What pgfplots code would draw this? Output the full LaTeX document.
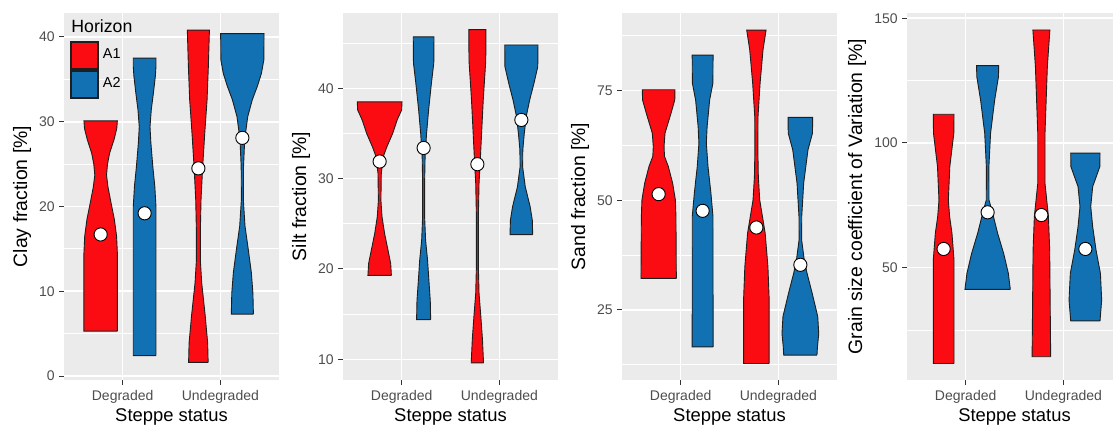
\documentclass[border=0pt]{standalone}
\usepackage{pgfplots}
\pgfplotsset{compat=1.18}
\usepackage{fontspec}
\setmainfont{Liberation Sans}
\definecolor{panelbg}{RGB}{235,235,235}
\definecolor{tickgray}{RGB}{77,77,77}
\definecolor{tickdark}{RGB}{51,51,51}
\definecolor{A1}{RGB}{250,12,18}
\definecolor{A2}{RGB}{17,113,178}
\definecolor{outl}{RGB}{30,30,30}
\pgfplotsset{
  vio/.style={draw=outl, line width=0.45pt},
  med/.style={only marks, mark=*, mark size=3.3pt, mark options={fill=white, draw=black, line width=0.45pt}, forget plot},
  panel/.style={
    scale only axis, width=107.5pt, height=183.5pt, anchor=south west,
    xmin=0.4, xmax=2.6, xtick={1,2}, xticklabels={Degraded,Undegraded},
    axis background/.style={fill=panelbg},
    axis line style={draw=none},
    tick pos=left, tick align=outside, major tick length=2.5pt, minor tick length=0pt,
    tick style={tickdark, line width=0.5pt},
    xmajorgrids, ymajorgrids, yminorgrids,
    major grid style={white, line width=0.8pt},
    minor grid style={white, line width=0.4pt},
    ticklabel style={font=\fontsize{7}{8}\selectfont, text=tickgray, inner sep=0pt},
    xticklabel style={anchor=north, yshift=-2.5pt},
    yticklabel style={anchor=east, xshift=-2pt},
    xlabel={Steppe status},
    x label style={at={(axis description cs:0.5,-0.1144)}, anchor=base, font=\fontsize{9.2}{11}\selectfont},
    y label style={at={(axis description cs:-0.195,0.5)}, anchor=center, font=\fontsize{9.7}{11}\selectfont},
    /pgf/number format/assume math mode=true,
  },
}
\newcommand{\violin}[4][forget plot]{\addplot[vio, fill=#3, #1] table[row sep=\\, x expr=\thisrow{d}+#2, y=y] {#4};}
\begin{document}
\begin{tikzpicture}
\useasboundingbox (0,0) rectangle (556.5pt,213pt);
% ---------------- Panel 1: Clay
\begin{axis}[panel, at={(32pt,23pt)}, ymin=-0.47, ymax=42.83, ytick={0,10,20,30,40}, minor ytick={5,15,25,35},
  ylabel={Clay fraction [\%]},
  legend image code/.code={\path (0pt,-7pt) rectangle (14pt,7pt); \draw[#1] (0.4pt,-6.6pt) rectangle (13.6pt,6.6pt);},
  legend style={at={(axis description cs:0.0279,0.9237)}, anchor=north west, draw=none, fill=none, inner sep=0pt, outer sep=0pt, row sep=0pt, column sep=2pt, font=\fontsize{7.2}{8}\selectfont, nodes={inner sep=0pt, anchor=west}},
  legend cell align=left]
\violin[]{0.775}{A1}{d y\\ 0.171 5.3\\ 0.171 14.5\\ 0.163 16.5\\ 0.140 18.5\\ 0.105 20.5\\ 0.075 22.3\\ 0.060 23.7\\ 0.070 25\\ 0.092 26.3\\ 0.137 27.9\\ 0.165 29.2\\ 0.171 30.1\\ -0.171 30.1\\ -0.165 29.2\\ -0.137 27.9\\ -0.092 26.3\\ -0.070 25\\ -0.060 23.7\\ -0.075 22.3\\ -0.105 20.5\\ -0.140 18.5\\ -0.163 16.5\\ -0.171 14.5\\ -0.171 5.3\\ 0.171 5.3\\}
\addlegendentry{A1}
\violin[]{1.225}{A2}{d y\\ 0.116 2.4\\ 0.116 20\\ 0.104 22.4\\ 0.084 24.7\\ 0.064 27.5\\ 0.055 29.4\\ 0.068 31.4\\ 0.090 33.4\\ 0.110 35.4\\ 0.116 36.5\\ 0.116 37.5\\ -0.116 37.5\\ -0.116 36.5\\ -0.110 35.4\\ -0.090 33.4\\ -0.068 31.4\\ -0.055 29.4\\ -0.064 27.5\\ -0.084 24.7\\ -0.104 22.4\\ -0.116 20\\ -0.116 2.4\\ 0.116 2.4\\}
\addlegendentry{A2}
\violin{1.775}{A1}{d y\\ 0.100 1.6\\ 0.095 3.9\\ 0.070 7.1\\ 0.034 11\\ 0.020 13.7\\ 0.020 16.9\\ 0.027 20.8\\ 0.044 24.7\\ 0.065 28.6\\ 0.089 32.6\\ 0.102 36.5\\ 0.113 40.8\\ -0.113 40.8\\ -0.102 36.5\\ -0.089 32.6\\ -0.065 28.6\\ -0.044 24.7\\ -0.027 20.8\\ -0.020 16.9\\ -0.020 13.7\\ -0.034 11\\ -0.070 7.1\\ -0.095 3.9\\ -0.100 1.6\\ 0.100 1.6\\}
\violin{2.225}{A2}{d y\\ 0.113 7.3\\ 0.108 9.8\\ 0.092 12.2\\ 0.061 14.9\\ 0.027 17.7\\ 0.010 20.8\\ 0.012 24.7\\ 0.024 27.9\\ 0.055 30.6\\ 0.102 32.6\\ 0.154 34.2\\ 0.195 35.7\\ 0.220 37.3\\ 0.222 40.4\\ -0.222 40.4\\ -0.220 37.3\\ -0.195 35.7\\ -0.154 34.2\\ -0.102 32.6\\ -0.055 30.6\\ -0.024 27.9\\ -0.012 24.7\\ -0.010 20.8\\ -0.027 17.7\\ -0.061 14.9\\ -0.092 12.2\\ -0.108 9.8\\ -0.113 7.3\\ 0.113 7.3\\}
\addplot[med] coordinates {(0.775,16.7) (1.225,19.2) (1.775,24.5) (2.225,28.1)};
\node[anchor=base west, font=\fontsize{8.85}{10}\selectfont, inner sep=0pt] at (axis description cs:0.0326,0.9455) {Horizon};
\end{axis}
% ---------------- Panel 2: Silt
\begin{axis}[panel, at={(171.5pt,23pt)}, ymin=7.71, ymax=48.34, ytick={10,20,30,40}, minor ytick={15,25,35,45},
  ylabel={Silt fraction [\%]}]
\violin{0.775}{A1}{d y\\ 0.120 19.3\\ 0.113 20.6\\ 0.085 22.1\\ 0.051 23.9\\ 0.024 25.8\\ 0.013 27.6\\ 0.017 30.6\\ 0.039 32.5\\ 0.073 33.5\\ 0.133 35\\ 0.179 36.5\\ 0.225 37.6\\ 0.229 38.5\\ -0.229 38.5\\ -0.225 37.6\\ -0.179 36.5\\ -0.133 35\\ -0.073 33.5\\ -0.039 32.5\\ -0.017 30.6\\ -0.013 27.6\\ -0.024 25.8\\ -0.051 23.9\\ -0.085 22.1\\ -0.113 20.6\\ -0.120 19.3\\ 0.120 19.3\\}
\violin{1.225}{A2}{d y\\ 0.072 14.4\\ 0.068 16.5\\ 0.056 18.4\\ 0.040 21\\ 0.020 23.2\\ 0.010 25.8\\ 0.010 29.5\\ 0.015 32.4\\ 0.030 35\\ 0.051 37.6\\ 0.080 40.6\\ 0.104 42.8\\ 0.106 45.7\\ -0.106 45.7\\ -0.104 42.8\\ -0.080 40.6\\ -0.051 37.6\\ -0.030 35\\ -0.015 32.4\\ -0.010 29.5\\ -0.010 25.8\\ -0.020 23.2\\ -0.040 21\\ -0.056 18.4\\ -0.068 16.5\\ -0.072 14.4\\ 0.072 14.4\\}
\violin{1.775}{A1}{d y\\ 0.063 9.6\\ 0.052 12.2\\ 0.035 14.8\\ 0.017 17.3\\ 0.010 20.3\\ 0.010 25.8\\ 0.017 29.5\\ 0.030 32.1\\ 0.043 35\\ 0.060 38.7\\ 0.086 43.1\\ 0.087 46.5\\ -0.087 46.5\\ -0.086 43.1\\ -0.060 38.7\\ -0.043 35\\ -0.030 32.1\\ -0.017 29.5\\ -0.010 25.8\\ -0.010 20.3\\ -0.017 17.3\\ -0.035 14.8\\ -0.052 12.2\\ -0.063 9.6\\ 0.063 9.6\\}
\violin{2.225}{A2}{d y\\ 0.116 23.8\\ 0.112 25.4\\ 0.090 26.9\\ 0.040 29.1\\ 0.013 31.3\\ 0.015 33.2\\ 0.030 35\\ 0.050 36.9\\ 0.085 38.7\\ 0.130 40.6\\ 0.168 42.4\\ 0.170 44.8\\ -0.170 44.8\\ -0.168 42.4\\ -0.130 40.6\\ -0.085 38.7\\ -0.050 36.9\\ -0.030 35\\ -0.015 33.2\\ -0.013 31.3\\ -0.040 29.1\\ -0.090 26.9\\ -0.112 25.4\\ -0.116 23.8\\ 0.116 23.8\\}
\addplot[med] coordinates {(0.775,31.9) (1.225,33.4) (1.775,31.6) (2.225,36.5)};
\end{axis}
% ---------------- Panel 3: Sand
\begin{axis}[panel, at={(311pt,23pt)}, ymin=9.04, ymax=92.7, ytick={25,50,75}, minor ytick={12.5,37.5,62.5,87.5},
  ylabel={Sand fraction [\%]}]
\violin{0.775}{A1}{d y\\ 0.181 32.2\\ 0.177 46.3\\ 0.171 50.1\\ 0.143 53.9\\ 0.099 57.7\\ 0.060 60\\ 0.055 62.2\\ 0.065 65.3\\ 0.126 69.8\\ 0.165 72.9\\ 0.167 75.2\\ -0.167 75.2\\ -0.165 72.9\\ -0.126 69.8\\ -0.065 65.3\\ -0.055 62.2\\ -0.060 60\\ -0.099 57.7\\ -0.143 53.9\\ -0.171 50.1\\ -0.177 46.3\\ -0.181 32.2\\ 0.181 32.2\\}
\violin{1.225}{A2}{d y\\ 0.107 16.6\\ 0.106 46.3\\ 0.085 51.6\\ 0.055 57.7\\ 0.038 63\\ 0.046 66.8\\ 0.072 72.9\\ 0.105 76.7\\ 0.107 83.1\\ -0.107 83.1\\ -0.105 76.7\\ -0.072 72.9\\ -0.046 66.8\\ -0.038 63\\ -0.055 57.7\\ -0.085 51.6\\ -0.106 46.3\\ -0.107 16.6\\ 0.107 16.6\\}
\violin{1.775}{A1}{d y\\ 0.131 12.8\\ 0.131 27.3\\ 0.118 34.9\\ 0.090 42.5\\ 0.034 50.1\\ 0.020 55.4\\ 0.015 61.5\\ 0.017 69.2\\ 0.038 76.7\\ 0.068 84.3\\ 0.099 88.8\\ -0.099 88.8\\ -0.068 84.3\\ -0.038 76.7\\ -0.017 69.2\\ -0.015 61.5\\ -0.020 55.4\\ -0.034 50.1\\ -0.090 42.5\\ -0.118 34.9\\ -0.131 27.3\\ -0.131 12.8\\ 0.131 12.8\\}
\violin{2.225}{A2}{d y\\ 0.170 14.7\\ 0.175 16.6\\ 0.188 19.6\\ 0.178 23.5\\ 0.120 28.9\\ 0.068 33.4\\ 0.040 36.4\\ 0.013 41\\ 0.014 46.3\\ 0.034 53.9\\ 0.078 61.5\\ 0.124 65.3\\ 0.126 68.9\\ -0.126 68.9\\ -0.124 65.3\\ -0.078 61.5\\ -0.034 53.9\\ -0.014 46.3\\ -0.013 41\\ -0.040 36.4\\ -0.068 33.4\\ -0.120 28.9\\ -0.178 23.5\\ -0.188 19.6\\ -0.175 16.6\\ -0.170 14.7\\ 0.170 14.7\\}
\addplot[med] coordinates {(0.775,51.4) (1.225,47.6) (1.775,43.8) (2.225,35.3)};
\end{axis}
% ---------------- Panel 4: CV
\begin{axis}[panel, at={(453.5pt,23pt)}, ymin=4.97, ymax=152.1, ytick={50,100,150}, minor ytick={25,75,125},
  ylabel={Grain size coefficient of Variation [\%]},
  y label style={at={(axis description cs:-0.2326,0.5)}}]
\violin{0.775}{A1}{d y\\ 0.106 11.6\\ 0.106 53.1\\ 0.085 63.8\\ 0.061 70.5\\ 0.048 77.1\\ 0.063 90.5\\ 0.104 103.9\\ 0.106 111.5\\ -0.106 111.5\\ -0.104 103.9\\ -0.063 90.5\\ -0.048 77.1\\ -0.061 70.5\\ -0.085 63.8\\ -0.106 53.1\\ -0.106 11.6\\ 0.106 11.6\\}
\violin{1.225}{A2}{d y\\ 0.232 41.3\\ 0.212 47.7\\ 0.164 55.7\\ 0.102 63.8\\ 0.051 71.8\\ 0.014 77.1\\ 0.013 90.5\\ 0.030 103.9\\ 0.072 117.2\\ 0.111 126.6\\ 0.113 131\\ -0.113 131\\ -0.111 126.6\\ -0.072 117.2\\ -0.030 103.9\\ -0.013 90.5\\ -0.014 77.1\\ -0.051 71.8\\ -0.102 63.8\\ -0.164 55.7\\ -0.212 47.7\\ -0.232 41.3\\ 0.232 41.3\\}
\violin{1.775}{A1}{d y\\ 0.095 14.3\\ 0.085 57.1\\ 0.072 70.5\\ 0.037 83.8\\ 0.037 103.9\\ 0.061 130.6\\ 0.087 145.3\\ -0.087 145.3\\ -0.061 130.6\\ -0.037 103.9\\ -0.037 83.8\\ -0.072 70.5\\ -0.085 57.1\\ -0.095 14.3\\ 0.095 14.3\\}
\violin{2.225}{A2}{d y\\ 0.150 28.7\\ 0.167 37\\ 0.154 47.7\\ 0.109 57.1\\ 0.075 66.4\\ 0.055 74.5\\ 0.075 82.5\\ 0.148 90.5\\ 0.150 95.9\\ -0.150 95.9\\ -0.148 90.5\\ -0.075 82.5\\ -0.055 74.5\\ -0.075 66.4\\ -0.109 57.1\\ -0.154 47.7\\ -0.167 37\\ -0.150 28.7\\ 0.150 28.7\\}
\addplot[med] coordinates {(0.775,57.5) (1.225,72.2) (1.775,71.1) (2.225,57.5)};
\end{axis}
\end{tikzpicture}
\end{document}
